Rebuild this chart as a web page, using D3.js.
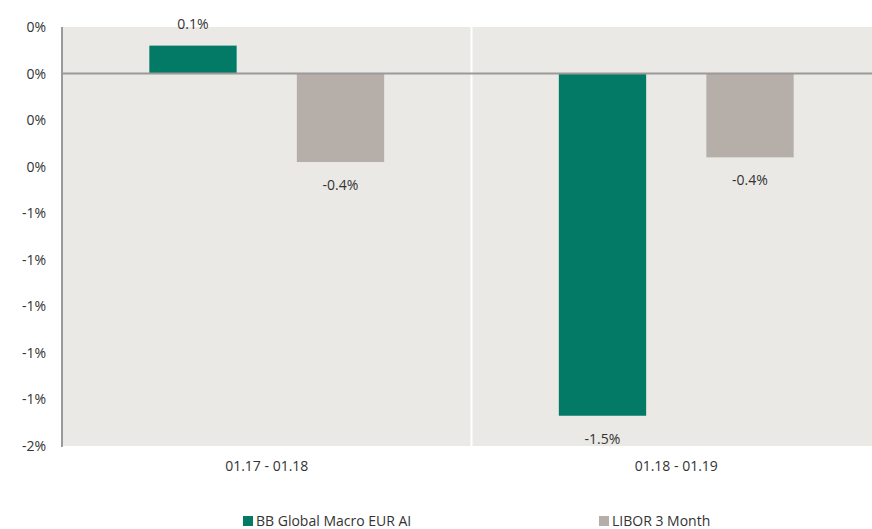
<!DOCTYPE html>
<html>
<head>
<meta charset="utf-8">
<script src="https://cdn.jsdelivr.net/npm/d3@7"></script>
<style>
  body { margin: 0; background: #fff; }
  text { font-family: "Open Sans", "Noto Sans", sans-serif; fill: #333; }
</style>
</head>
<body>
<div class="wrapper"></div>
<script>
var periods = ["01.17 - 01.18", "01.18 - 01.19"];
var seriesNames = ["BB Global Macro EUR AI", "LIBOR 3 Month"];
var fundValues = [0.12, -1.47];
var liborValues = [-0.38, -0.36];
var yTicks = [0.2, 0, -0.2, -0.4, -0.6, -0.8, -1.0, -1.2, -1.4, -1.6];
var colors = ["#037a66", "#b5aea9"];

var width = 872, height = 529;
var plotLeft = 62, plotRight = 881, plotTop = 27, plotBottom = 446;

var rows = periods.map((p, i) => ({ period: p, values: [fundValues[i], liborValues[i]] }));

var svg = d3.select(".wrapper").append("svg")
  .attr("width", width)
  .attr("height", height);

var x0 = d3.scaleBand().domain(periods).range([plotLeft, plotRight]);
var x1 = d3.scaleBand().domain(d3.range(seriesNames.length))
  .range([0, x0.bandwidth()])
  .paddingInner(0.408)
  .paddingOuter(0.592);
var y = d3.scaleLinear().domain([-1.6, 0.2]).range([plotBottom, plotTop]);

// plot background
svg.append("rect")
  .attr("x", plotLeft).attr("y", plotTop)
  .attr("width", plotRight - plotLeft).attr("height", plotBottom - plotTop)
  .style("fill", "#ebe9e6");

// white separator between groups
svg.append("line")
  .attr("x1", x0(periods[1])).attr("x2", x0(periods[1]))
  .attr("y1", plotTop).attr("y2", plotBottom)
  .style("stroke", "#fff").style("stroke-width", 2);

// y axis labels
var yAxis = d3.axisLeft(y).tickValues(yTicks).tickSize(0).tickPadding(16)
  .tickFormat(d => d3.format(".0f")(d).replace("−", "-").replace(/^-0$/, "0") + "%");
svg.append("g")
  .attr("transform", "translate(" + plotLeft + ",0)")
  .call(yAxis)
  .call(g => g.select(".domain").remove())
  .selectAll("text")
  .style("font-size", "14px")
  .style("fill", "#333")
  .style("font-family", "'Open Sans', sans-serif");

// bars
var groups = svg.selectAll("g.group")
  .data(rows)
  .join("g")
  .attr("class", "group")
  .attr("transform", d => "translate(" + x0(d.period) + ",0)");

groups.selectAll("rect")
  .data(d => d.values)
  .join("rect")
  .attr("x", (d, i) => x1(i))
  .attr("width", x1.bandwidth())
  .attr("y", d => y(Math.max(0, d)))
  .attr("height", d => Math.abs(y(d) - y(0)))
  .style("fill", (d, i) => colors[i]);

groups.selectAll("text.value")
  .data(d => d.values)
  .join("text")
  .attr("class", "value")
  .attr("x", (d, i) => x1(i) + x1.bandwidth() / 2)
  .attr("y", d => d >= 0 ? y(d) - 22 : y(d) + 23)
  .attr("dy", "0.35em")
  .attr("text-anchor", "middle")
  .style("font-size", "14px")
  .text(d => d3.format(".1f")(d).replace("−", "-") + "%");

// zero line and left axis line
svg.append("line")
  .attr("x1", plotLeft).attr("x2", plotRight)
  .attr("y1", y(0)).attr("y2", y(0))
  .style("stroke", "#9b9a98").style("stroke-width", 2);
svg.append("line")
  .attr("x1", plotLeft).attr("x2", plotLeft)
  .attr("y1", plotTop).attr("y2", plotBottom + 1)
  .style("stroke", "#9b9a98").style("stroke-width", 2);

// x labels
svg.append("g")
  .attr("transform", "translate(0," + plotBottom + ")")
  .call(d3.axisBottom(x0).tickSize(0).tickPadding(15))
  .call(g => g.select(".domain").remove())
  .selectAll("text")
  .style("font-size", "14px")
  .style("fill", "#333")
  .style("font-family", "'Open Sans', sans-serif");

// legend
var legendX = [243, 599];
var legend = svg.selectAll("g.legend")
  .data(seriesNames)
  .join("g")
  .attr("class", "legend")
  .attr("transform", (d, i) => "translate(" + legendX[i] + ",515)");

legend.append("rect")
  .attr("y", 1)
  .attr("width", 10).attr("height", 10)
  .style("fill", (d, i) => colors[i]);

legend.append("text")
  .attr("x", 13).attr("y", 6)
  .attr("dy", "0.35em")
  .style("font-size", "14px")
  .text(d => d);
</script>
</body>
</html>
